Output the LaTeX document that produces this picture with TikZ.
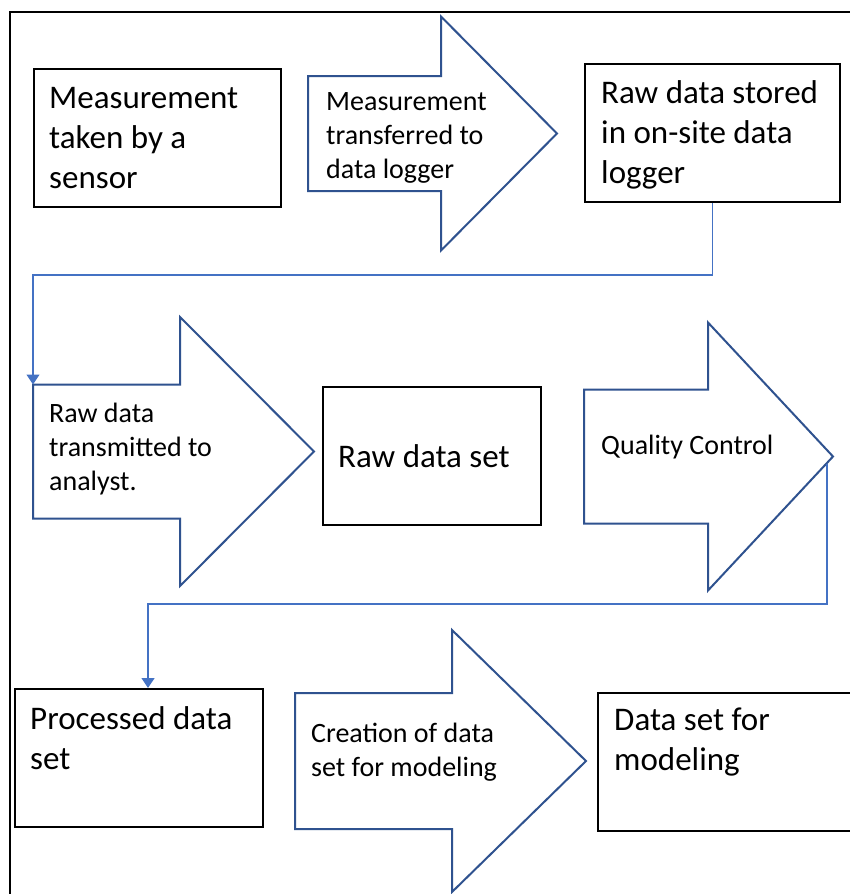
\documentclass[tikz,border=0pt]{standalone}
\usepackage{fontspec}
\setmainfont{Carlito}
\usetikzlibrary{arrows.meta,calc}
\definecolor{arrowblue}{HTML}{2F528F}
\definecolor{linkblue}{HTML}{4472C4}
\tikzset{
  frameline/.style={line width=2.5pt,black},
  box/.style={draw=black,line width=2pt,rectangle,anchor=north west,inner sep=0pt,fill=white},
  arrowshape/.style={draw=arrowblue,line width=2pt,fill=white,line join=miter},
  bigtext/.style={anchor=north west,inner sep=0pt,align=left,font=\fontsize{33}{40}\selectfont},
  smalltext/.style={anchor=north west,inner sep=0pt,align=left,font=\fontsize{28}{34}\selectfont},
  link/.style={draw=linkblue,line width=1.3pt,-{Triangle[length=10pt,width=13pt]}},
}
\newcommand\blockarrow[7]{% name, x left, x head, x tip, y centre, body half, head half
  \coordinate (#1-nw) at (#2,#5-#6);
  \coordinate (#1-tip) at (#4,#5);
  \draw[arrowshape] (#2,#5-#6) -- (#3,#5-#6) -- (#3,#5-#7) -- (#4,#5)
    -- (#3,#5+#7) -- (#3,#5+#6) -- (#2,#5+#6) -- cycle;
}
\begin{document}
\begin{tikzpicture}[x=1pt,y=-1pt]
\useasboundingbox (0,0) rectangle (850,894);
\clip (0,0) rectangle (850,894);
\fill[white] (0,0) rectangle (850,894);
% frame
\draw[frameline] (10,894) -- (10,12) -- (850,12);
% boxes
\node[box,minimum width=247pt,minimum height=138pt] (box1) at (33,68) {};
\node[box,minimum width=255pt,minimum height=138pt] (box2) at (584,63) {};
\node[box,minimum width=218pt,minimum height=138pt] (rawset) at (322,386) {};
\node[box,minimum width=248pt,minimum height=138pt] (proc) at (14,688) {};
\node[box,minimum width=280pt,minimum height=138pt] (final) at (597,692) {};
% block arrows
\blockarrow{a1}{308}{441}{557}{133.5}{57.5}{117}
\blockarrow{a2}{33}{180}{314}{451.5}{67}{134.5}
\blockarrow{a3}{584}{708}{833}{456.5}{67}{134}
\blockarrow{a4}{295}{452}{586}{761}{68}{131}
% texts
\node[bigtext] (t1) at (49,80) {\strut Measurement\\taken by a\\sensor};
\node[smalltext] (t2) at (326,86) {\strut Measurement\\transferred to\\data logger};
\node[bigtext] (t3) at (601,75) {\strut Raw data stored\\in on-site data\\logger};
\node[smalltext] (t4) at (49,398) {\strut Raw data\\transmitted to\\analyst.};
\node[bigtext] (t5) at (338,439) {\strut Raw data set};
\node[smalltext] (t6) at (601,430) {\strut Quality Control};
\node[bigtext] (t7) at (30,701) {\strut Processed data\\set};
\node[smalltext] (t8) at (311,718) {\strut Creation of data\\set for modeling};
\node[bigtext] (t9) at (614,702) {\strut Data set for\\modeling};
% connectors
\coordinate (c1mid) at (33,275);
\draw[link] (box2.south) |- (c1mid) -- (a2-nw);
\coordinate (qcout) at ($(a3-tip)+(-6,7)$);
\coordinate (c2mid) at (148,604);
\draw[link] (qcout) |- (c2mid) -- (c2mid |- proc.north);
\end{tikzpicture}
\end{document}
